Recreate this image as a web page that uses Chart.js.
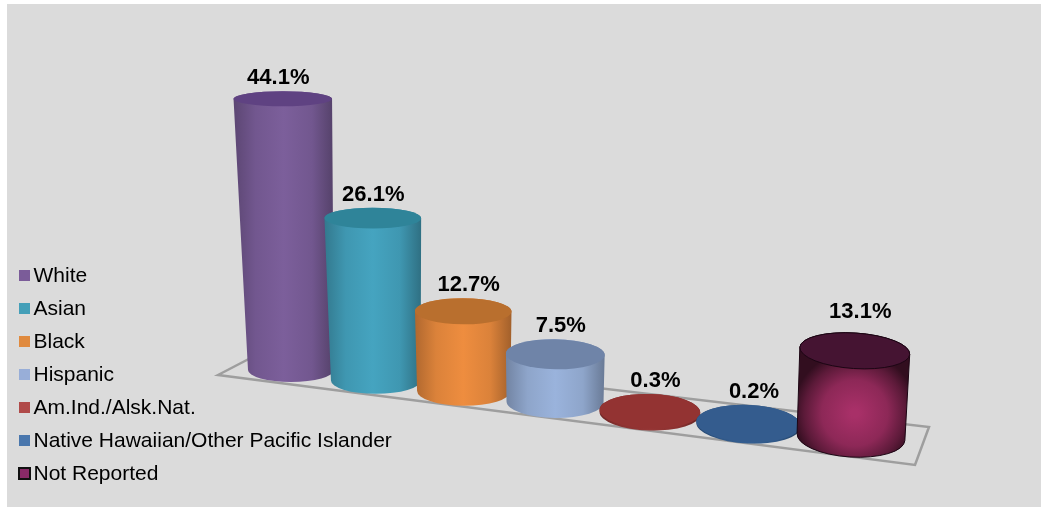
<!DOCTYPE html>
<html lang="en">
<head>
  <meta charset="UTF-8">
  <title>Share by race/ethnicity</title>
  <script src="https://cdn.jsdelivr.net/npm/chart.js"></script>
  <style>
    html, body { margin: 0; padding: 0; background: #fff; }
    #panel { position: absolute; left: 7px; top: 4px; right: 2px; bottom: 1px; background: #dbdbdb; }
    #chart { position: absolute; left: 0; top: 0; }
  </style>
</head>
<body>
  <div id="panel"></div>
  <canvas id="chart" width="1043" height="508"></canvas>

  <script>
    const categories = ['White', 'Asian', 'Black', 'Hispanic', 'Am.Ind./Alsk.Nat.', 'Native Hawaiian/Other Pacific Islander', 'Not Reported'];
    const shares = [44.1, 26.1, 12.7, 7.5, 0.3, 0.2, 13.1];
    const valueLabels = ['44.1%', '26.1%', '12.7%', '7.5%', '0.3%', '0.2%', '13.1%'];

    const sideColors = ['#7c5f9b', '#45a4c0', '#ee8d3f', '#9ab3dc', '#963635', '#345f92', '#a83068'];
    const topColors = ['#5f4282', '#2f8499', '#b96f2e', '#6f84a8', '#933332', '#345c8e', '#451432'];
    const legendColors = ['#7b5c99', '#449fb8', '#e08a3e', '#98aed8', '#b04a49', '#4a77ad', '#8a2a68'];

    // Camera the 3D bars were rendered with: u runs along the floor (0..1), v is the value
    function project(u, v) {
      const bx = 291 + 499.5 * u / (1 - 0.108 * u);
      const by = 370 + 63 * u + 4 * u * u * u;
      const brx = 43 + 11 * u;
      const bry = 12 + 8 * u;
      return {
        x: 510 + (bx - 510) * (1 + 0.00085 * v),
        y: by - v * 6.15 * (1 + 0.07 * u),
        rx: brx * (1 + 0.0033 * v * (1 - 0.55 * u)),
        ry: bry * (1 - 0.0085 * v),
        rot: 0.065 * u * u
      };
    }

    function shade(hex, f) {
      const n = parseInt(hex.slice(1), 16);
      return `rgb(${(n >> 16) * f},${((n >> 8) & 255) * f},${(n & 255) * f})`;
    }

    function drawCylinder(ctx, base, top, i) {
      const last = i === categories.length - 1;
      const side = sideColors[i];

      ctx.beginPath();
      ctx.ellipse(base.x, base.y, base.rx, base.ry, base.rot, 0, Math.PI);
      ctx.ellipse(top.x, top.y, top.rx, top.ry, top.rot, Math.PI, 2 * Math.PI);
      ctx.closePath();

      let fill;
      if (last) {
        const cy = base.y - 24;
        fill = ctx.createRadialGradient(top.x, cy, 4, top.x, cy, base.rx * 1.15);
        fill.addColorStop(0, side);
        fill.addColorStop(0.5, shade(side, 0.84));
        fill.addColorStop(0.8, shade(side, 0.55));
        fill.addColorStop(1, shade(side, 0.3));
      } else {
        const l = Math.min(top.x - top.rx, base.x - base.rx);
        const r = Math.max(top.x + top.rx, base.x + base.rx);
        fill = ctx.createLinearGradient(l, 0, r, 0);
        fill.addColorStop(0, shade(side, 0.74));
        fill.addColorStop(0.22, shade(side, 0.92));
        fill.addColorStop(0.5, side);
        fill.addColorStop(0.78, shade(side, 0.92));
        fill.addColorStop(1, shade(side, 0.68));
      }
      ctx.fillStyle = fill;
      ctx.fill();
      if (last) {
        ctx.strokeStyle = '#1c0614';
        ctx.lineWidth = 1;
        ctx.stroke();
      }

      ctx.beginPath();
      ctx.ellipse(top.x, top.y, top.rx, top.ry, top.rot, 0, 2 * Math.PI);
      ctx.fillStyle = topColors[i];
      ctx.fill();
      if (last) ctx.stroke();
    }

    const floorPlugin = {
      id: 'floor',
      beforeDatasetsDraw(chart) {
        const ctx = chart.ctx;
        const corners = [[218, 375], [268, 349], [929, 427], [915, 465]];
        ctx.save();
        ctx.filter = 'blur(0.5px)';
        ctx.beginPath();
        corners.forEach(c => ctx.lineTo(c[0], c[1]));
        ctx.closePath();
        ctx.strokeStyle = '#9e9e9e';
        ctx.lineWidth = 2.5;
        ctx.stroke();
        ctx.restore();
      }
    };

    const cylinderPlugin = {
      id: 'cylinders',
      afterDatasetsDraw(chart) {
        const ctx = chart.ctx;
        const bars = chart.getDatasetMeta(0).data;
        const yScale = chart.scales.y;
        const x0 = bars[0].x;
        const span = bars[bars.length - 1].x - x0;
        const tops = [];
        ctx.save();
        ctx.filter = 'blur(0.7px)';
        bars.forEach((bar, i) => {
          const u = (bar.x - x0) / span;
          const top = project(u, yScale.getValueForPixel(bar.y));
          tops.push({ top, u });
          drawCylinder(ctx, project(u, 0), top, i);
        });
        ctx.filter = 'none';
        ctx.fillStyle = '#000';
        ctx.font = 'bold 22px "Liberation Sans"';
        ctx.textAlign = 'center';
        ctx.textBaseline = 'middle';
        tops.forEach(({ top, u }, i) => {
          const lift = i === tops.length - 1 ? 21 : 13;
          ctx.fillText(valueLabels[i], top.x - 4.5 + 10 * Math.min(1, u * 3), top.y - top.ry - lift);
        });
        ctx.restore();
      }
    };

    // Legend squares sit closer to the text than Chart.js allows, so the legend keeps a thin box and they are drawn here
    const legendMarkers = {
      id: 'legendMarkers',
      afterDraw(chart) {
        const ctx = chart.ctx;
        ctx.save();
        chart.legend.legendHitBoxes.forEach((box, i) => {
          const last = i === categories.length - 1;
          const cy = box.top + box.height / 2 - 1;
          ctx.fillStyle = legendColors[i];
          ctx.fillRect(box.left, cy - 5.5, 11, 11);
          if (last) {
            ctx.strokeStyle = '#111';
            ctx.lineWidth = 2;
            ctx.strokeRect(box.left, cy - 5.5, 11, 11);
          }
        });
        ctx.restore();
      }
    };

    new Chart(document.getElementById('chart'), {
      type: 'bar',
      data: {
        labels: categories,
        datasets: [{ data: shares, backgroundColor: 'rgba(0,0,0,0)' }]
      },
      plugins: [floorPlugin, cylinderPlugin, legendMarkers],
      options: {
        responsive: false,
        animation: false,
        layout: { padding: { left: 7, bottom: 11 } },
        scales: {
          x: { display: false },
          y: { display: false, min: 0, max: 50 }
        },
        plugins: {
          tooltip: { enabled: false },
          legend: {
            position: 'left',
            align: 'end',
            labels: {
              boxWidth: 4,
              boxHeight: 11,
              padding: 12,
              color: '#111',
              font: { family: '"Liberation Sans"', size: 21 },
              generateLabels: () => categories.map(name => ({
                text: name,
                fillStyle: 'rgba(0,0,0,0)',
                strokeStyle: 'rgba(0,0,0,0)',
                lineWidth: 0,
                hidden: false,
                datasetIndex: 0
              }))
            }
          }
        }
      }
    });
  </script>
</body>
</html>
